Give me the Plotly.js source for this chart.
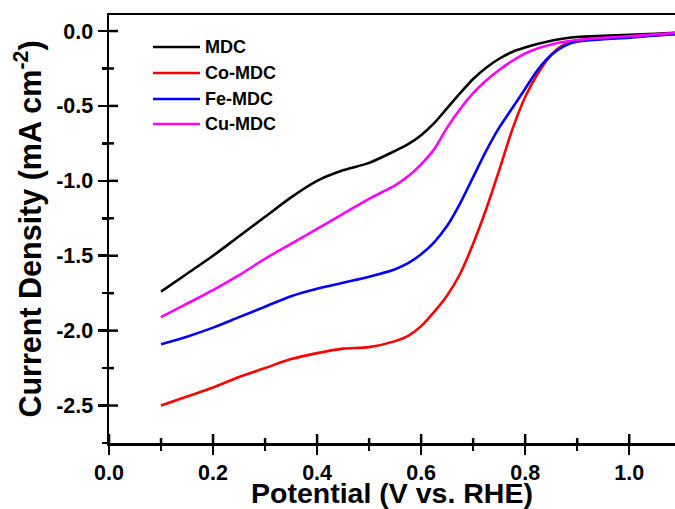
<!DOCTYPE html>
<html><head><meta charset="utf-8">
<script src="https://cdn.plot.ly/plotly-3.0.1.min.js"></script>
<style>body{margin:0;padding:0;background:#fff}#plot{width:675px;height:509px}</style>
</head><body><div id="plot"></div>
<script>
// Potential (V vs. RHE)
const potential = [0.10,0.15,0.20,0.25,0.30,0.35,0.40,0.45,0.50,0.55,0.575,0.60,0.625,0.65,0.675,0.70,0.725,0.75,0.775,0.80,0.825,0.85,0.875,0.90,0.95,1.00,1.05,1.09];
const seriesNames = ["MDC","Co-MDC","Fe-MDC","Cu-MDC"];
const seriesColors = ["#000000","#ff0000","#0000ff","#ff00ff"];
const mdc   = [-1.74,-1.62,-1.50,-1.37,-1.24,-1.11,-1.00,-0.93,-0.88,-0.80,-0.755,-0.695,-0.615,-0.515,-0.415,-0.32,-0.245,-0.185,-0.14,-0.11,-0.085,-0.065,-0.05,-0.04,-0.032,-0.025,-0.018,-0.012];
const coMdc = [-2.50,-2.44,-2.38,-2.31,-2.25,-2.19,-2.15,-2.12,-2.11,-2.07,-2.035,-1.97,-1.875,-1.765,-1.62,-1.42,-1.19,-0.93,-0.66,-0.44,-0.28,-0.16,-0.09,-0.065,-0.05,-0.04,-0.03,-0.02];
const feMdc = [-2.09,-2.04,-1.98,-1.91,-1.84,-1.77,-1.72,-1.68,-1.64,-1.59,-1.55,-1.49,-1.41,-1.30,-1.15,-0.975,-0.80,-0.645,-0.515,-0.385,-0.255,-0.16,-0.10,-0.07,-0.055,-0.045,-0.03,-0.02];
const cuMdc = [-1.91,-1.82,-1.73,-1.63,-1.52,-1.42,-1.32,-1.22,-1.12,-1.03,-0.97,-0.89,-0.79,-0.645,-0.52,-0.415,-0.33,-0.26,-0.20,-0.15,-0.115,-0.09,-0.072,-0.06,-0.045,-0.035,-0.022,-0.013];
const seriesValues = [mdc, coMdc, feMdc, cuMdc];
const xTickVals = [0.0,0.2,0.4,0.6,0.8,1.0];
const xTickText = ["0.0","0.2","0.4","0.6","0.8","1.0"];
const xMinorVals = [0.1,0.3,0.5,0.7,0.9];
const yTickVals = [0.0,-0.5,-1.0,-1.5,-2.0,-2.5];
const yTickText = ["0.0","-0.5","-1.0","-1.5","-2.0","-2.5"];
const yMinorVals = [-0.25,-0.75,-1.25,-1.75,-2.25];

const FONT = "Liberation Sans, Arial, sans-serif";
const traces = seriesNames.map((n,i)=>({
  x: potential, y: seriesValues[i], name: n, type:'scatter', mode:'lines',
  line:{color:seriesColors[i], width:2.6, shape:'spline', smoothing:0.8},
  showlegend:false
}));

const xr=[0,1.088], yr=[-2.75,0.107];
const axBase = {linecolor:'#000', linewidth:2.5, tickcolor:'#000', tickwidth:2.5, showgrid:false, zeroline:false};
const shapes=[], annotations=[];
// inner halves of the crossing ticks
const tk = {color:'#000', width:2.5};
xTickVals.forEach(v=>shapes.push({type:'line', xref:'x', yref:'paper', ysizemode:'pixel', yanchor:0, x0:v, x1:v, y0:0, y1:9, line:tk}));
xMinorVals.forEach(v=>shapes.push({type:'line', xref:'x', yref:'paper', ysizemode:'pixel', yanchor:0, x0:v, x1:v, y0:0, y1:5, line:tk}));
yTickVals.forEach(v=>shapes.push({type:'line', yref:'y', xref:'paper', xsizemode:'pixel', xanchor:0, y0:v, y1:v, x0:0, x1:9, line:tk}));
yMinorVals.forEach(v=>shapes.push({type:'line', yref:'y', xref:'paper', xsizemode:'pixel', xanchor:0, y0:v, y1:v, x0:0, x1:5, line:tk}));

const legY=[47,73,99,124];
seriesNames.forEach((n,i)=>{
  const yp=(443-legY[i])/428;
  shapes.push({type:'line', xref:'paper', yref:'paper', x0:(153-109)/566, x1:(200-109)/566, y0:yp, y1:yp, line:{color:seriesColors[i], width:2.6}});
  annotations.push({xref:'paper', yref:'paper', x:(203-109)/566, y:yp, xanchor:'left', yanchor:'middle', text:n, showarrow:false, font:{family:FONT, size:18, color:'#000', weight:'bold'}});
});

const layout = {
  width:675, height:509, margin:{l:109, r:0, t:15, b:66},
  paper_bgcolor:'#fff', plot_bgcolor:'#fff', showlegend:false,
  font:{family:FONT, color:'#000'},
  xaxis: Object.assign({}, axBase, {range:xr, tickvals:xTickVals, ticktext:xTickText, ticks:'outside', ticklen:9, mirror:true,
    tickfont:{family:FONT, size:21.5, weight:'bold'},
    minor:{dtick:0.1, tick0:0, ticks:'outside', ticklen:5, tickwidth:2.5, tickcolor:'#000'},
    title:{text:'Potential (V vs. RHE)', font:{family:FONT, size:28.5, weight:'bold'}, standoff:4}}),
  yaxis: Object.assign({}, axBase, {range:yr, tickvals:yTickVals, ticktext:yTickText, ticks:'outside', ticklen:9,
    tickfont:{family:FONT, size:21.5, weight:'bold'},
    minor:{dtick:0.25, tick0:0, ticks:'outside', ticklen:5, tickwidth:2.5, tickcolor:'#000'},
    title:{text:'Current Density (mA cm<sup>-2</sup>)', font:{family:FONT, size:30.5, weight:'bold'}, standoff:6}}),
  shapes:shapes, annotations:annotations
};
Plotly.newPlot('plot', traces, layout, {displayModeBar:false, staticPlot:true});
</script></body></html>
